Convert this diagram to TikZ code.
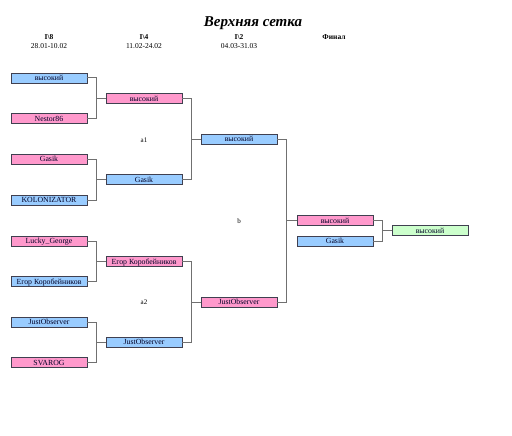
\documentclass[tikz,border=0pt]{standalone}
\usepackage{fontspec}
\setmainfont{Liberation Serif}
\definecolor{bblue}{HTML}{99CCFF}
\definecolor{bpink}{HTML}{FF99CC}
\definecolor{bgreen}{HTML}{CCFFCC}
\definecolor{bline}{HTML}{707070}
\definecolor{bedge}{HTML}{404050}
\begin{document}
\begin{tikzpicture}[x=1pt,y=-1pt,
  box/.style={draw=bedge,line width=0.9pt,minimum width=76pt,minimum height=10pt,inner sep=0pt,text height=6.2pt,text depth=0.8pt,font=\fontsize{7.8}{8}\selectfont,text=black!85!blue},
  bl/.style={box,fill=bblue},
  pk/.style={box,fill=bpink},
  gr/.style={box,fill=bgreen},
  conn/.style={draw=bline,line width=1pt},
  hdr/.style={font=\bfseries\fontsize{7.5}{8}\selectfont,inner sep=0pt},
  dt/.style={font=\fontsize{7.5}{8}\selectfont,inner sep=0pt},
  lbl/.style={font=\fontsize{7}{7}\selectfont,inner sep=0pt}]
\useasboundingbox (0,0) rectangle (512,436);
\node[font=\bfseries\itshape\fontsize{15}{17}\selectfont,inner sep=0pt] (title) at (253,23) {Верхняя сетка};
\node[hdr] (h1) at (49,37) {I\textbackslash 8};
\node[dt] (d1) at (49,46) {28.01-10.02};
\node[hdr] (h2) at (144,37) {I\textbackslash 4};
\node[dt] (d2) at (144,46) {11.02-24.02};
\node[hdr] (h3) at (239,37) {I\textbackslash 2};
\node[dt] (d3) at (239,46) {04.03-31.03};
\node[hdr] (h4) at (334,37) {Финал};
% round 1
\node[bl] (a1) at (49,78) {высокий};
\node[pk] (a2) at (49,118.5) {Nestor86};
\node[pk] (a3) at (49,159) {Gasik};
\node[bl] (a4) at (49,200) {KOLONIZATOR};
\node[pk] (a5) at (49,241) {Lucky\_George};
\node[bl] (a6) at (49,281.5) {Егор Коробейников};
\node[bl] (a7) at (49,322) {JustObserver};
\node[pk] (a8) at (49,362.5) {SVAROG};
% round 2
\node[pk] (b1) at (144,98.5) {высокий};
\node[bl] (b2) at (144,179.5) {Gasik};
\node[pk] (b3) at (144,261.5) {Егор Коробейников};
\node[bl] (b4) at (144,342) {JustObserver};
% round 3
\node[bl] (c1) at (239,139) {высокий};
\node[pk] (c2) at (239,302) {JustObserver};
% final
\node[pk] (f1) at (335,220.5) {высокий};
\node[bl] (f2) at (335,241) {Gasik};
\node[gr] (w) at (430,230.75) {высокий};
% labels
\node[lbl] (l1) at (144,140) {a1};
\node[lbl] (l2) at (144,302) {a2};
\node[lbl] (l3) at (239,221) {b};
% connectors
\draw[conn] (a1.east) -- ++(9,0) |- (b1.west);
\draw[conn] (a2.east) -- ++(9,0) |- (b1.west);
\draw[conn] (a3.east) -- ++(9,0) |- (b2.west);
\draw[conn] (a4.east) -- ++(9,0) |- (b2.west);
\draw[conn] (a5.east) -- ++(9,0) |- (b3.west);
\draw[conn] (a6.east) -- ++(9,0) |- (b3.west);
\draw[conn] (a7.east) -- ++(9,0) |- (b4.west);
\draw[conn] (a8.east) -- ++(9,0) |- (b4.west);
\draw[conn] (b1.east) -- ++(9,0) |- (c1.west);
\draw[conn] (b2.east) -- ++(9,0) |- (c1.west);
\draw[conn] (b3.east) -- ++(9,0) |- (c2.west);
\draw[conn] (b4.east) -- ++(9,0) |- (c2.west);
\draw[conn] (c1.east) -- ++(9,0) |- (f1.west);
\draw[conn] (c2.east) -- ++(9,0) |- (f1.west);
\draw[conn] (f1.east) -- ++(9,0) |- (w.west);
\draw[conn] (f2.east) -- ++(9,0) |- (w.west);
\end{tikzpicture}
\end{document}
